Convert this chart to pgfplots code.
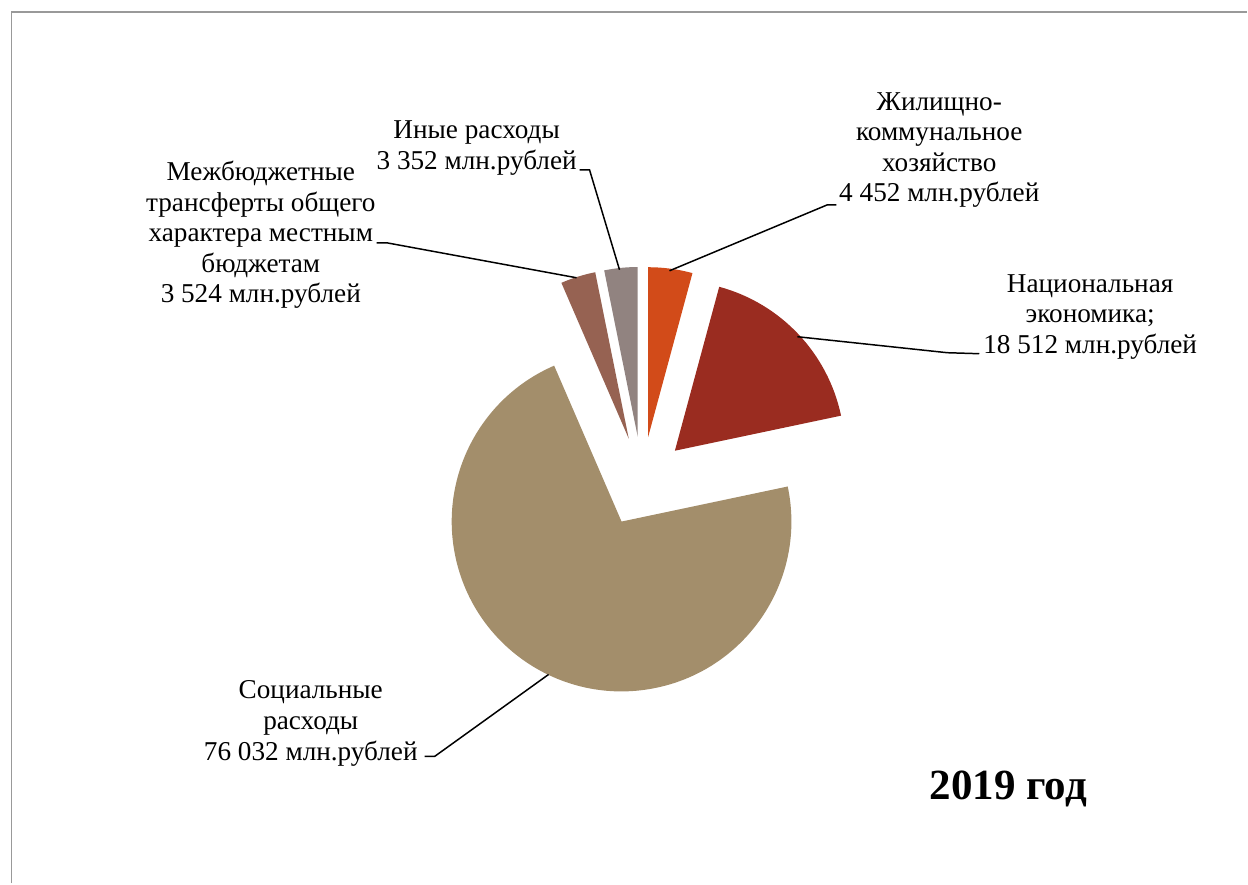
\documentclass[border=0pt]{standalone}
\usepackage{pgfplots}
\usepackage{pgfplotstable}
\pgfplotsset{compat=1.18}
\usepackage{fontspec}
\setmainfont{Liberation Serif}

\definecolor{c0}{RGB}{210,75,25}
\definecolor{c1}{RGB}{154,44,32}
\definecolor{c2}{RGB}{163,142,107}
\definecolor{c3}{RGB}{150,98,82}
\definecolor{c4}{RGB}{145,131,128}

% расходы, млн. рублей, 2019
\pgfplotstableread{
label value
zhkh 4452
nat 18512
soc 76032
mezh 3524
inye 3352
}\piedata

\begin{document}
\begin{tikzpicture}
% total and slice angles (clockwise from 12 o'clock)
\gdef\total{0}
\foreach \i in {0,...,4}{
  \pgfkeys{/pgf/fpu=true,/pgf/fpu/output format=fixed}
  \pgfplotstablegetelem{\i}{value}\of\piedata
  \pgfmathparse{\total+\pgfplotsretval}\xdef\total{\pgfmathresult}
}
\gdef\cur{90}
\foreach \i in {0,...,4}{
  \pgfkeys{/pgf/fpu=true,/pgf/fpu/output format=fixed}
  \pgfplotstablegetelem{\i}{value}\of\piedata
  \pgfmathparse{\cur-360*\pgfplotsretval/\total}\xdef\nxt{\pgfmathresult}
  \expandafter\xdef\csname s\i\endcsname{\cur}
  \expandafter\xdef\csname e\i\endcsname{\nxt}
  \pgfmathparse{642.7+45*cos((\cur+\nxt)/2)}\expandafter\xdef\csname ax\i\endcsname{\pgfmathresult}
  \pgfmathparse{402+45*sin((\cur+\nxt)/2)}\expandafter\xdef\csname ay\i\endcsname{\pgfmathresult}
  \xdef\cur{\nxt}
}
\begin{axis}[
  x=0.02cm, y=0.02cm,
  xmin=0, xmax=1248, ymin=0, ymax=884,
  hide axis, clip=false,
  ]
  \path (axis cs:0,0) rectangle (axis cs:1248,884);
  \draw[gray!80, line width=1.1pt] (axis cs:11.5,0) -- (axis cs:11.5,872) -- (axis cs:1248,872);

  \pgfplotsinvokeforeach{0,...,4}{
    \fill[c#1] (axis cs:\csname ax#1\endcsname,\csname ay#1\endcsname)
      -- ++(\csname s#1\endcsname:3.4cm)
      arc[start angle=\csname s#1\endcsname, end angle=\csname e#1\endcsname, radius=3.4cm]
      -- cycle;
  }

  % leader lines
  \draw[black, line width=0.85pt] (axis cs:670,613) -- (axis cs:828,679) -- (axis cs:837,679);
  \draw[black, line width=0.85pt] (axis cs:798,547) -- (axis cs:948,531) -- (axis cs:980,530);
  \draw[black, line width=0.85pt] (axis cs:377,641) -- (axis cs:387,641) -- (axis cs:577,606);
  \draw[black, line width=0.85pt] (axis cs:580,714) -- (axis cs:590,714) -- (axis cs:620,614);
  \draw[black, line width=0.85pt] (axis cs:425,127) -- (axis cs:435,127) -- (axis cs:549,209);

  % labels
  \begin{scope}[every node/.style={align=center, inner sep=0pt, font=\fontsize{15.5}{17.4}\selectfont}]
  \node at (axis cs:940,734) {Жилищно-\\коммунальное\\хозяйство\\4 452 млн.рублей};
  \node at (axis cs:1091,567) {Национальная\\экономика;\\18 512 млн.рублей};
  \node at (axis cs:261,649) {Межбюджетные\\трансферты общего\\характера местным\\бюджетам\\3 524 млн.рублей};
  \node at (axis cs:477,736) {Иные расходы\\3 352 млн.рублей};
  \node at (axis cs:311,160) {Социальные\\расходы\\76 032 млн.рублей};
  \end{scope}
  \node[font=\fontsize{24.5}{28}\selectfont\bfseries, inner sep=0pt] at (axis cs:1009,94) {2019 год};
\end{axis}
\end{tikzpicture}
\end{document}
